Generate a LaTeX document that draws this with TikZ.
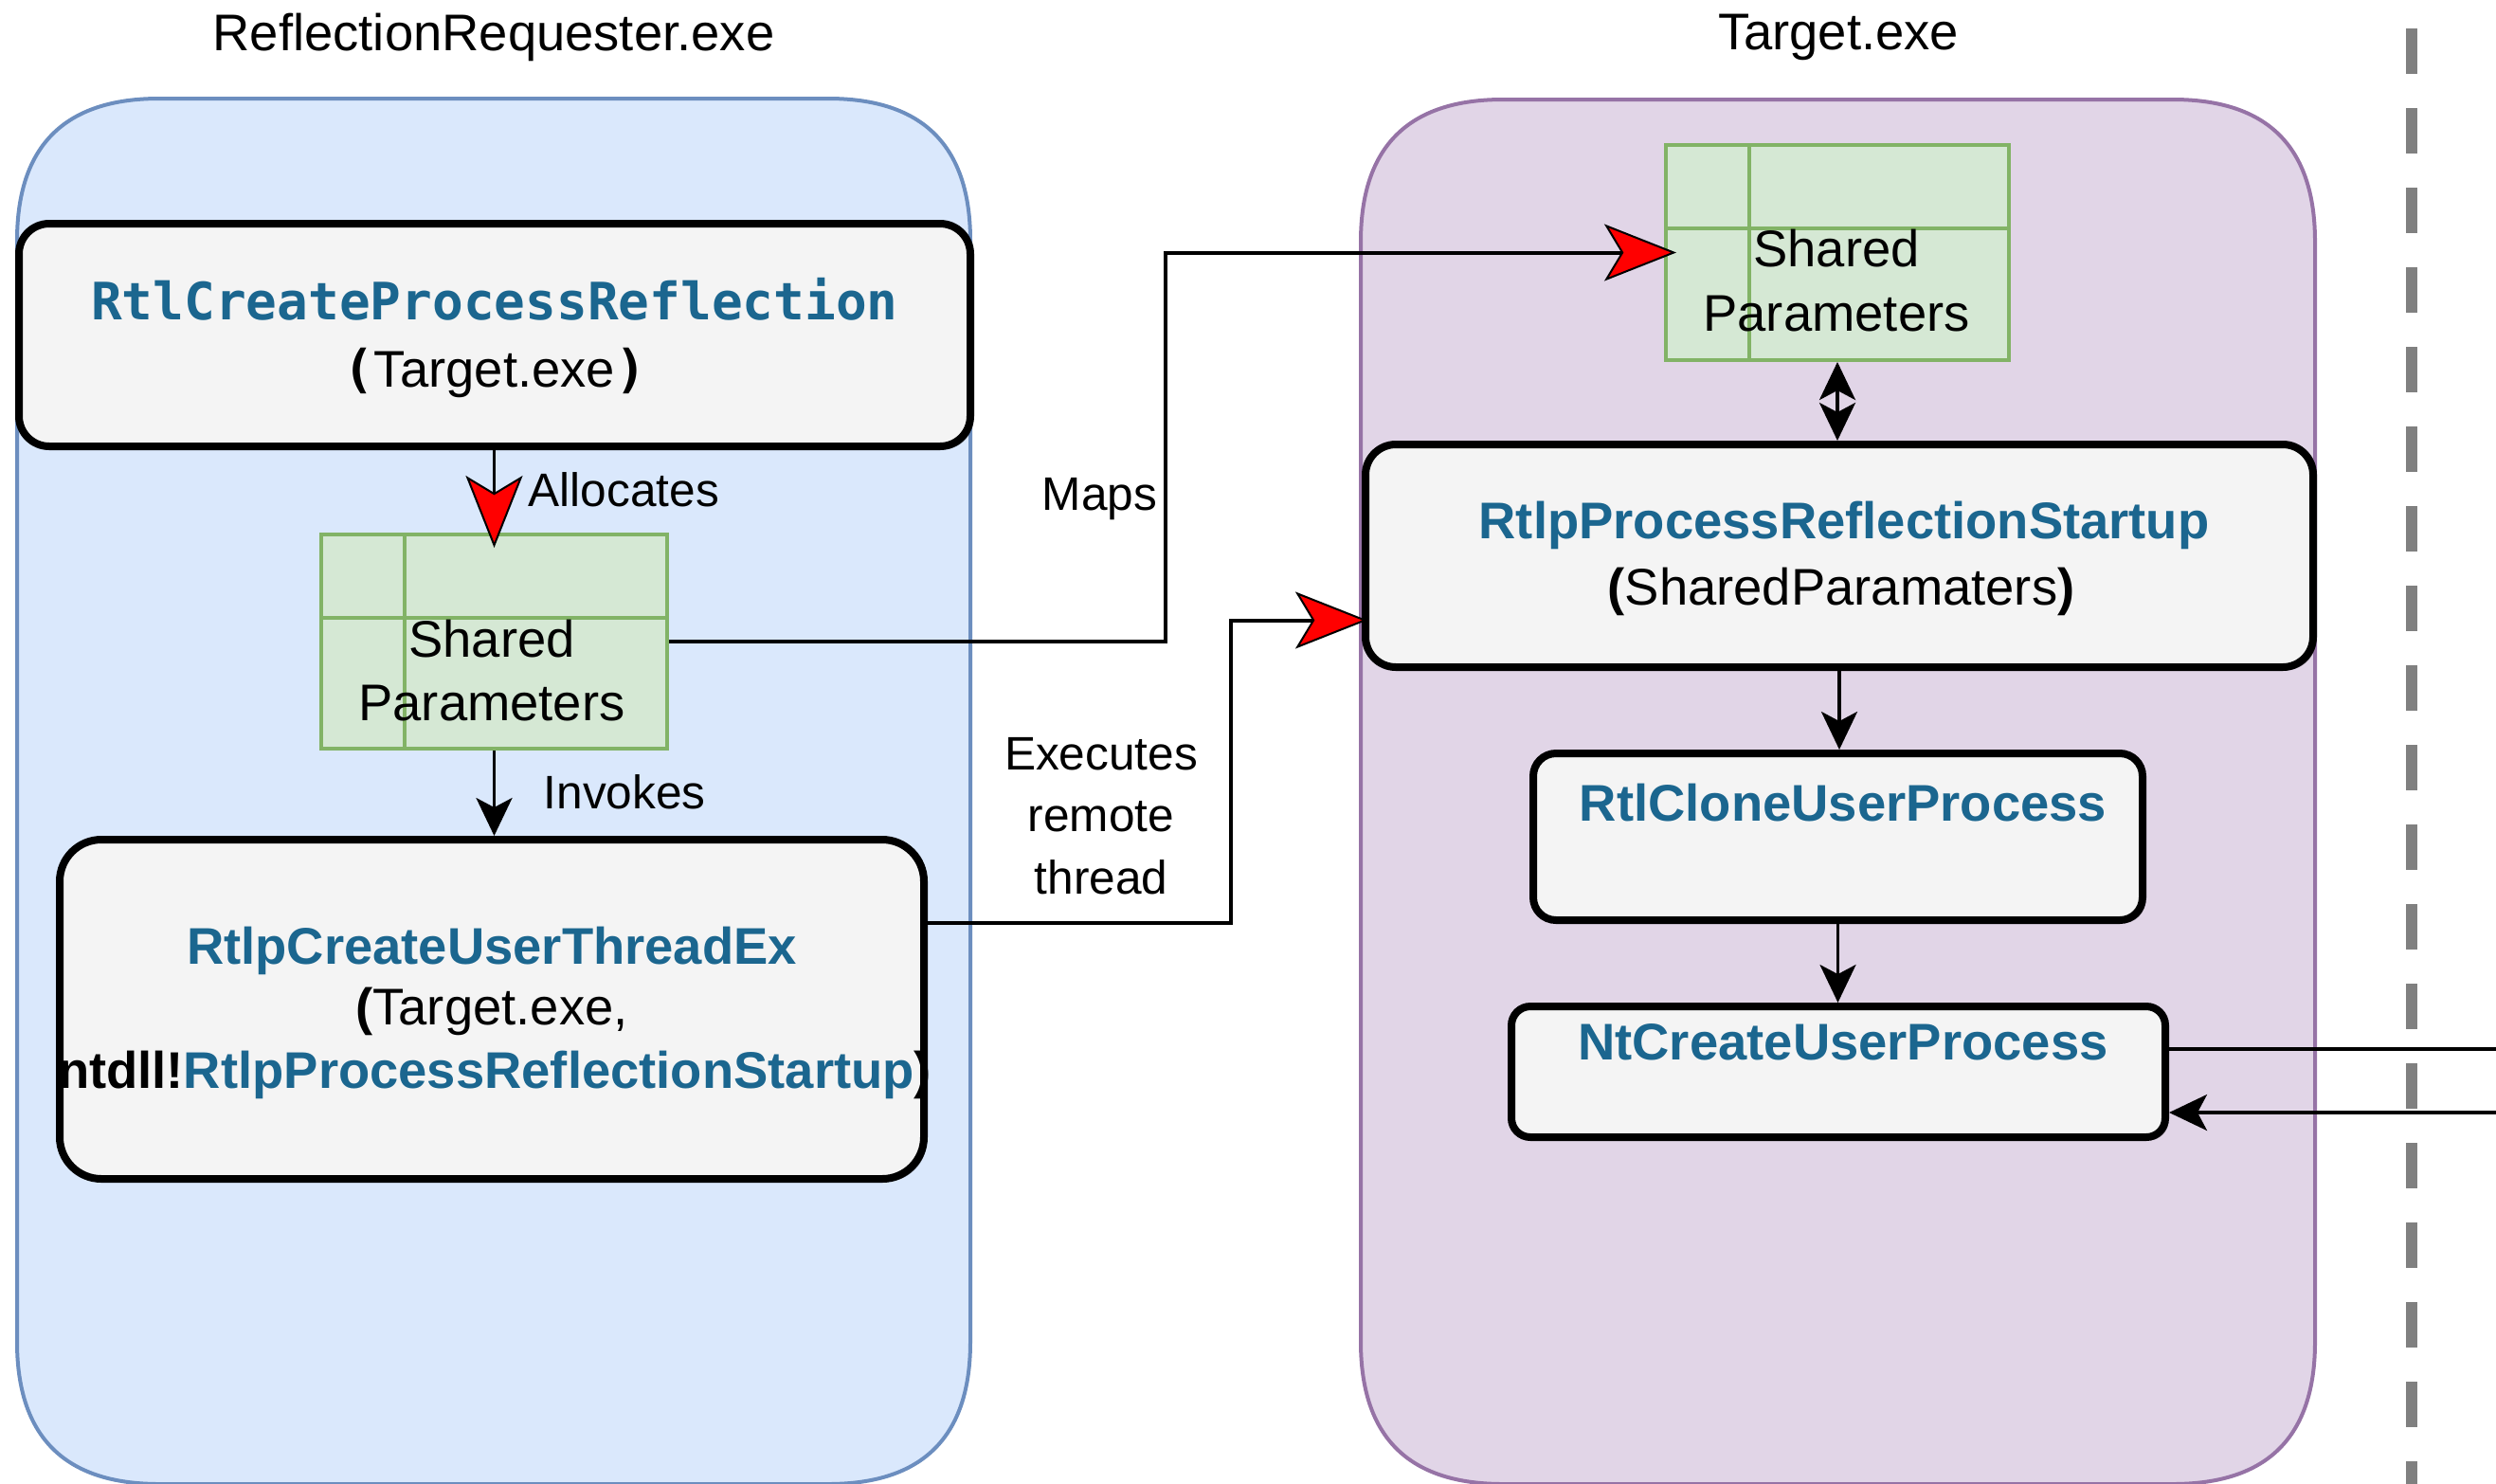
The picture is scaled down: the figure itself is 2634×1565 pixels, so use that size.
\documentclass[tikz,border=0pt]{standalone}
\usepackage{fontspec}
\setmainfont{Liberation Sans}
\newfontfamily\codefont{DejaVu Sans Mono}
\usetikzlibrary{arrows.meta,calc,shadows}

\definecolor{reqfill}{HTML}{DAE8FC}
\definecolor{reqline}{HTML}{6C8EBF}
\definecolor{tgtfill}{HTML}{E1D5E7}
\definecolor{tgtline}{HTML}{9673A6}
\definecolor{memfill}{HTML}{D5E8D4}
\definecolor{memline}{HTML}{82B366}
\definecolor{fnfill}{HTML}{F4F4F4}
\definecolor{fnblue}{HTML}{1B668F}
\definecolor{sepgray}{HTML}{808080}

\begin{document}
\begin{tikzpicture}[x=0.25pt, y=-0.25pt,
  fnbox/.style={draw=black, line width=2pt, fill=fnfill, inner sep=0pt,
    drop shadow={shadow xshift=0.8pt, shadow yshift=-0.8pt, fill=black, opacity=0.35}},
  membox/.style={draw=memline, line width=1pt, fill=memfill, inner sep=0pt},
  divider/.style={draw=memline, line width=1pt},
  txt/.style={font=\fontsize{13.6}{16}\selectfont, inner sep=0pt, anchor=base},
  fname/.style={txt, text=fnblue, font=\fontsize{13.6}{16}\selectfont\bfseries},
  lbl/.style={font=\fontsize{12.4}{15}\selectfont, inner sep=0pt},
  conn/.style={draw=black, line width=0.9pt},
  wideconn/.style={draw=black, line width=1pt},
  blktip/.style={-{Stealth[length=10pt, width=9.5pt, inset=2.5pt]}},
  bothtips/.style={{Stealth[length=10pt, width=9.5pt, inset=2.5pt]}-{Stealth[length=10pt, width=9.5pt, inset=2.5pt]}},
  redtip/.style={-{Stealth[length=19pt, width=15pt, inset=4.5pt, fill=red, line width=0.5pt]}}
]
\useasboundingbox (0,0) rectangle (2634,1565);

% process containers
\path[draw=reqline, fill=reqfill, line width=1pt]
  (18,254) .. controls (18,154) and (68,104) .. (168,104)
  -- (874,104) .. controls (974,104) and (1024,154) .. (1024,254)
  -- (1024,1416) .. controls (1024,1516) and (974,1566) .. (874,1566)
  -- (168,1566) .. controls (68,1566) and (18,1516) .. (18,1416) -- cycle;
\path[draw=tgtline, fill=tgtfill, line width=1pt]
  (1436,255) .. controls (1436,155) and (1486,105) .. (1586,105)
  -- (2293,105) .. controls (2393,105) and (2443,155) .. (2443,255)
  -- (2443,1416) .. controls (2443,1516) and (2393,1566) .. (2293,1566)
  -- (1586,1566) .. controls (1486,1566) and (1436,1516) .. (1436,1416) -- cycle;

% kernel boundary
\draw[sepgray, line width=3pt, dash pattern=on 12pt off 9pt] (2545,30) -- (2545,1600);

% titles
\node[txt] (ttlreq) at (521,53) {ReflectionRequester.exe};
\node[txt] (ttltgt) at (1940,52) {Target.exe};

% function boxes
\node[fnbox, rounded corners=8pt, minimum width=251pt, minimum height=58.75pt] (box1) at (522,353.5) {};
\node[fnbox, rounded corners=11pt, minimum width=228pt, minimum height=89.5pt] (box2) at (519,1065) {};
\node[fnbox, rounded corners=8pt, minimum width=250pt, minimum height=58.75pt] (box3) at (1941,586.5) {};
\node[fnbox, rounded corners=6pt, minimum width=160.75pt, minimum height=44pt] (box4) at (1939.5,883) {};
\node[fnbox, rounded corners=5pt, minimum width=172.5pt, minimum height=34.5pt] (box5) at (1940,1131) {};

% shared parameter blocks
\node[membox, minimum width=91.25pt, minimum height=56.5pt] (sp1) at (521.5,677) {};
\draw[divider] ([xshift=22.5pt]sp1.north west) -- ([xshift=22.5pt]sp1.south west);
\draw[divider] ([yshift=-22.5pt]sp1.north west) -- ([yshift=-22.5pt]sp1.north east);
\node[membox, minimum width=90.5pt, minimum height=56.75pt] (sp2) at (1939,266.5) {};
\draw[divider] ([xshift=22.5pt]sp2.north west) -- ([xshift=22.5pt]sp2.south west);
\draw[divider] ([yshift=-22.5pt]sp2.north west) -- ([yshift=-22.5pt]sp2.north east);

% box texts
\node[fname] (t1a) at (522,337) {\codefont\bfseries RtlCreateProcessReflection};
\node[txt] (t1b) at (522,408) {{\codefont\bfseries(}Target.exe{\codefont\bfseries)}};
\node[fname] (t2a) at (519,1017) {RtlpCreateUserThreadEx};
\node[txt] (t2b) at (519,1081) {\textbf{(}Target.exe,};
\node[txt] (t2c) at (522,1148) {\textbf{ntdll!}\textcolor{fnblue}{\textbf{RtlpProcessReflectionStartup}}\textbf{)}};
\node[fname] (t3a) at (1946,568) {RtlpProcessReflectionStartup};
\node[txt] (t3b) at (1943,638) {\textbf{(}SharedParamaters\textbf{)}};
\node[fname] (t4a) at (1945,866) {RtlCloneUserProcess};
\node[fname] (t5a) at (1945,1118) {NtCreateUserProcess};
\node[txt] (s1a) at (519,693) {Shared};
\node[txt] (s1b) at (519,760) {Parameters};
\node[txt] (s2a) at (1938,281) {Shared};
\node[txt] (s2b) at (1938,349) {Parameters};

% connector labels
\node[lbl, anchor=base west] (lalloc) at (557,534) {Allocates};
\node[lbl, anchor=base west] (linv) at (573,853) {Invokes};
\node[lbl, anchor=base east] (lmaps) at (1222,538) {Maps};
\node[lbl, anchor=base] (lex1) at (1162,812) {Executes};
\node[lbl, anchor=base] (lex2) at (1162,877) {remote};
\node[lbl, anchor=base] (lex3) at (1162,943) {thread};

% helper coordinates for routed connectors
\coordinate (mapsx) at (1230,0);
\coordinate (exx) at (1299,0);
\coordinate (exA) at ($(box2.east)+(0,-91)$);
\coordinate (exB) at ($(box3.west)+(0,68)$);
\coordinate (ntout) at (2640,1107);
\coordinate (ntin) at (2640,1174);

% connectors
\draw[conn, redtip, shorten >=-4pt] (box1.south -| sp1.north) -- (sp1.north);
\draw[conn, blktip] (sp1.south) -- (sp1.south |- box2.north);
\draw[wideconn, redtip, shorten >=-3.25pt] (sp1.east) -- (sp1.east -| mapsx) |- (sp2.west);
\draw[wideconn, redtip, shorten >=-1.5pt] (exA) -- (exA -| exx) |- (exB);
\draw[conn, bothtips] (sp2.south) -- (sp2.south |- box3.north);
\draw[conn, blktip] (box3.south) -- (box3.south |- box4.north);
\draw[conn, blktip] (box4.south) -- (box4.south |- box5.north);
\draw[conn] (ntout -| box5.east) -- (ntout);
\draw[conn, blktip] (ntin) -- (ntin -| box5.east);
\end{tikzpicture}
\end{document}
